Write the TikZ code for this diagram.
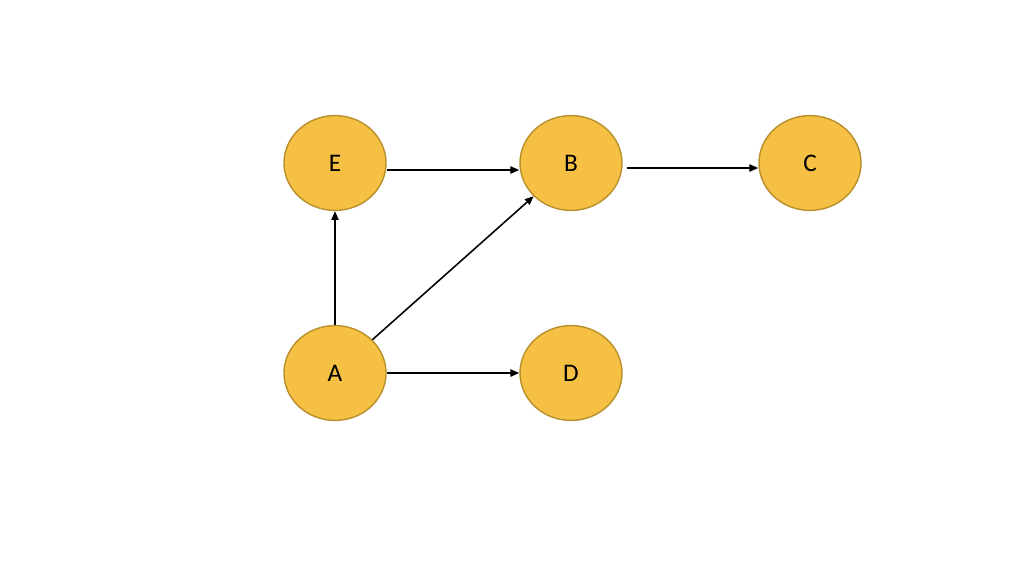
\documentclass[tikz,border=0pt]{standalone}
\definecolor{nodegold}{RGB}{245, 192, 68}
\definecolor{nodeedge}{RGB}{184, 144, 43}
\usepackage{fontspec}
\setmainfont{Carlito}
\usepackage{tikz}
\usetikzlibrary{shapes.geometric, arrows.meta, positioning}

\begin{document}
\begin{tikzpicture}[x=0.025cm, y=-0.025cm,
    vertex/.style={ellipse, draw=nodeedge, fill=nodegold, line width=1pt,
      minimum width=2.55cm, minimum height=2.37cm, font=\fontsize{18}{21}\selectfont},
    link/.style={-{Triangle[length=2.2mm, width=1.8mm]}, line width=1.1pt}]
  \useasboundingbox (0,0) rectangle (1024,567);

  \node[vertex] (E) at (335,163) {E};
  \node[vertex] (B) at (571,163) {B};
  \node[vertex] (C) at (810,163) {C};
  \node[vertex] (A) at (335,373) {A};
  \node[vertex] (D) at (571,373) {D};

  \draw[link] ([yshift=-0.175cm]E.east) -- ([yshift=-0.175cm]B.west);
  \draw[link] ([xshift=0.1cm, yshift=-0.125cm]B.east) -- ([yshift=-0.125cm]C.west);
  \draw[link] (A) -- (E);
  \draw[link] (A) -- (B);
  \draw[link] (A) -- (D);
\end{tikzpicture}
\end{document}
